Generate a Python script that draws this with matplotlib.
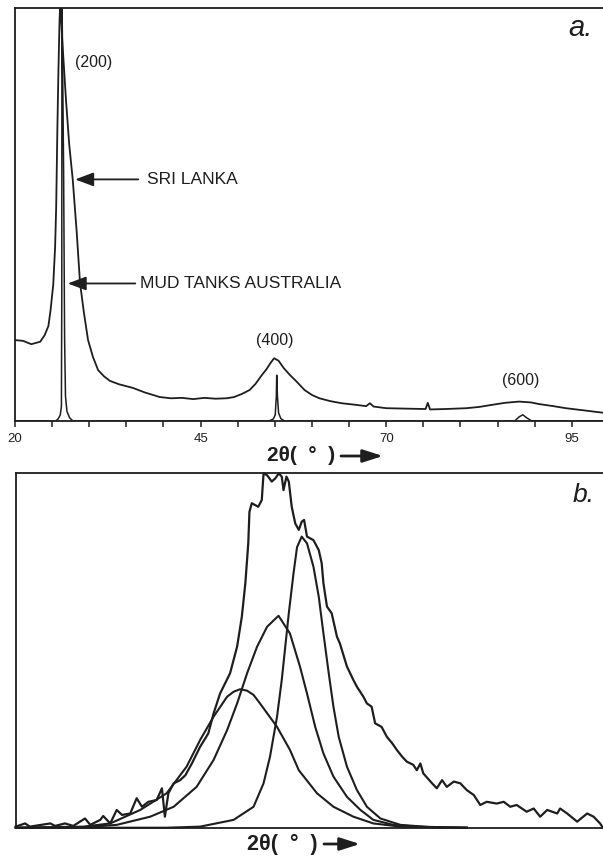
import matplotlib
matplotlib.use("Agg")
import matplotlib.pyplot as plt

plt.rcParams['font.family'] = ['Liberation Sans', 'DejaVu Sans']
INK = '#1e1e1e'

# (a) diffraction traces, 2-theta in degrees, intensity in % of full scale
sri_2theta = [20.0, 21.1, 22.2, 23.4, 24.0, 24.5, 24.8, 25.15, 25.4, 25.55,
              25.7, 25.85, 26.0, 26.06, 26.2, 26.37, 26.87, 27.3, 27.78, 28.3,
              28.76, 29.3, 29.84, 30.5, 31.2, 32.0, 32.8, 34.0, 35.9, 37.5,
              39.5, 41.0, 42.5, 44.0, 45.5, 47.0, 48.5, 49.5, 50.5, 51.6,
              52.4, 53.2, 53.9, 54.4, 54.9, 55.5, 56.2, 57.0, 57.9, 59.0,
              60.0, 61.0, 62.5, 64.0, 65.5, 67.3, 67.8, 68.3, 70.0, 72.5,
              75.3, 75.6, 75.9, 78.0, 80.8, 82.5, 84.2, 86.0, 87.9, 89.5,
              90.6, 92.5, 94.2, 96.5, 99.2]
sri_int = [19.6, 19.4, 18.6, 19.2, 20.8, 23.0, 27.0, 33.0, 42.0, 52.0,
           70.0, 85.0, 97.0, 99.8, 98.0, 92.0, 77.7, 67.0, 58.4, 46.0,
           33.4, 26.0, 19.6, 15.5, 12.3, 10.8, 9.7, 8.9, 8.0, 6.9,
           5.8, 5.5, 5.6, 5.3, 5.6, 5.4, 5.5, 5.8, 6.5, 7.5,
           9.0, 11.0, 12.6, 14.0, 15.2, 14.6, 12.8, 11.2, 9.6, 7.5,
           6.3, 5.5, 4.8, 4.3, 4.0, 3.6, 4.3, 3.5, 3.1, 3.0,
           2.9, 4.4, 2.8, 2.9, 3.1, 3.4, 3.9, 4.4, 4.7, 4.5,
           4.1, 3.6, 3.1, 2.6, 2.0]

mud_2theta = [20.0, 25.5, 25.85, 26.1, 26.25, 26.3, 26.32, 26.55, 26.68, 26.8,
              27.0, 27.35, 27.8, 54.2, 54.8, 55.05, 55.2, 55.25, 55.35, 55.5,
              55.8, 56.3, 87.3, 87.9, 88.4, 88.9, 89.6, 99.2]
mud_int = [0, 0, 0.6, 1.5, 3.5, 30, 105, 60, 20, 6,
           2.3, 0.8, 0, 0, 0.5, 1.5, 6, 11.1, 6, 2,
           0.6, 0, 0, 1.0, 1.5, 0.8, 0, 0]

tick_pos = [20, 25, 30, 35, 40, 45, 50, 55, 60, 65, 70, 75, 80, 85, 90, 95]
tick_text = ['20', '', '', '', '', '45', '', '', '', '', '70', '', '', '', '', '95']

# reflections: (label, 2-theta, height)
reflections = [('(200)', 30.6, 86.9), ('(400)', 55.0, 19.4), ('(600)', 88.1, 9.9)]

# (b) measured profile and its three fitted components (arbitrary units)
obs_x = [0.0, 1.6, 2.4, 5.9, 6.7, 8.4, 9.8, 11.8, 12.7, 14.4,
         14.9, 16.1, 17.2, 18.1, 19.5, 20.6, 21.5, 22.6, 24.0, 24.9,
         25.4, 26.0, 26.9, 28.0, 28.9, 30.0, 31.4, 32.3, 32.8, 33.7,
         34.8, 36.5, 37.7, 38.5, 39.1, 39.6, 39.8, 40.2, 41.3, 41.9,
         42.2, 42.8, 43.6, 44.2, 44.8, 45.3, 45.6, 46.1, 46.5, 47.0,
         47.6, 48.2, 48.7, 49.1, 49.6, 50.7, 51.6, 52.1, 52.4, 53.0,
         53.8, 54.7, 55.2, 56.4, 57.5, 58.1, 59.2, 59.8, 60.6, 61.2,
         62.3, 63.2, 64.1, 64.9, 65.8, 66.6, 67.7, 68.3, 68.9, 69.4,
         70.9, 71.7, 72.6, 73.4, 74.6, 75.7, 76.8, 78.0, 79.1, 80.2,
         81.9, 83.1, 84.2, 85.3, 87.0, 88.2, 89.3, 90.5, 92.2, 92.7,
         93.9, 95.6, 97.3, 98.4, 99.5, 100.0]
obs_y = [0.3, 1.2, 0.3, 1.2, 0.5, 1.2, 0.5, 2.6, 0.8, 2.2,
         3.3, 1.2, 5.0, 3.6, 4.0, 8.3, 5.9, 7.3, 7.8, 11.1,
         3.1, 9.7, 12.5, 13.4, 14.8, 18.1, 22.8, 25.2, 26.6, 32.2,
         37.8, 43.5, 51.0, 59.4, 68.8, 80.1, 89.0, 91.4, 90.4, 92.3,
         99.8, 99.3, 97.5, 98.4, 99.8, 98.9, 95.1, 98.9, 97.5, 90.4,
         85.7, 83.9, 86.2, 86.7, 82.0, 81.0, 78.2, 74.5, 68.8, 62.3,
         60.4, 53.8, 51.9, 45.4, 41.6, 39.7, 36.9, 35.0, 34.1, 29.4,
         28.4, 25.6, 23.8, 21.9, 20.0, 18.6, 17.7, 16.2, 18.1, 15.3,
         12.5, 11.1, 13.4, 11.5, 13.0, 12.5, 10.6, 9.2, 6.4, 7.3,
         6.8, 7.3, 5.9, 6.4, 4.5, 5.4, 3.1, 5.0, 4.0, 5.4,
         4.0, 1.7, 4.0, 3.1, 1.2, 0.0]

fit1_x = [0.0, 11.5, 16.1, 21.2, 25.7, 29.1, 31.4, 33.7, 36.0, 37.1,
          38.2, 39.4, 40.5, 41.6, 44.5, 46.7, 48.2, 51.3, 54.1, 57.5,
          60.9, 65.5, 71.1, 76.8]
fit1_y = [0.0, 0.3, 1.2, 5.0, 9.7, 17.2, 24.7, 31.3, 36.9, 38.3,
          39.0, 38.6, 37.4, 35.0, 28.4, 21.9, 16.2, 9.7, 5.9, 3.1,
          1.2, 0.3, 0.1, 0.0]

fit2_x = [0.0, 11.5, 17.2, 22.9, 26.9, 30.8, 33.7, 36.0, 37.7, 39.4,
          41.1, 42.8, 44.75, 46.7, 48.4, 49.6, 51.0, 52.4, 54.1, 56.4,
          58.7, 60.9, 64.3, 68.3, 74.0, 76.8]
fit2_y = [0.0, 0.1, 0.8, 3.1, 5.9, 11.5, 19.1, 27.5, 35.0, 43.5,
          51.0, 56.6, 59.7, 54.7, 45.4, 37.8, 28.4, 20.9, 14.4, 8.7,
          5.0, 2.2, 0.8, 0.3, 0.1, 0.0]

fit3_x = [0.0, 25.7, 31.4, 37.1, 40.5, 42.2, 43.3, 44.5, 45.3, 45.9,
          46.5, 47.3, 47.9, 48.7, 49.6, 50.7, 51.6, 52.4, 53.3, 54.1,
          55.0, 56.4, 58.1, 59.8, 62.1, 65.5, 71.1, 76.8]
fit3_y = [0.0, 0.0, 0.3, 2.2, 5.9, 12.5, 20.0, 31.3, 41.6, 51.0,
          60.4, 71.6, 79.0, 82.0, 80.1, 73.5, 65.1, 54.7, 43.5, 34.1,
          25.6, 17.2, 10.6, 5.9, 2.6, 0.8, 0.1, 0.0]

W, H = 603, 860
fig = plt.figure(figsize=(W / 100, H / 100), dpi=100)


def frame(ax):
    ax.spines['right'].set_visible(False)
    for s in ('left', 'top', 'bottom'):
        ax.spines[s].set_linewidth(1.3)
        ax.spines[s].set_color(INK)
    ax.set_yticks([])


def axis_label(x0, y0, size, arrow_from, arrow_to):
    fig.text(x0 / W, 1 - y0 / H, '2θ(  °  )', fontsize=size, fontweight='bold',
             color=INK, ha='left', va='center')
    fig.add_artist(matplotlib.patches.FancyArrowPatch(
        (arrow_from / W, 1 - y0 / H), (arrow_to / W, 1 - y0 / H),
        transform=fig.transFigure, arrowstyle='-|>,head_length=1.1,head_width=0.35',
        mutation_scale=11, lw=2.0, color=INK, shrinkA=0, shrinkB=0))


# ---- panel a ----
ax = fig.add_axes([15 / W, 1 - 421 / H, 1 - 15 / W, 413 / H])
frame(ax)
ax.plot(sri_2theta, sri_int, color=INK, lw=1.3)
ax.plot(mud_2theta, mud_int, color=INK, lw=1.1)
ax.set_xlim(20, 99.2)
ax.set_ylim(0, 100)
ax.set_xticks(tick_pos)
ax.set_xticklabels(tick_text)
ax.tick_params(axis='x', direction='out', length=4, width=1.1, color=INK,
               labelsize=9.5, pad=5, labelcolor=INK)

for label, tx, ty in reflections:
    ax.text(tx, ty, label, fontsize=11.5, ha='center', va='center', color=INK)

arrow_kw = dict(arrowstyle='-|>,head_length=0.8,head_width=0.3',
                mutation_scale=14, lw=1.3, color=INK, shrinkA=0, shrinkB=0)
ax.annotate('', xy=(28.1, 58.5), xytext=(36.6, 58.5), arrowprops=arrow_kw)
ax.text(37.8, 58.5, 'SRI LANKA', fontsize=12.5, va='center', ha='left', color=INK)
ax.annotate('', xy=(27.1, 33.3), xytext=(36.2, 33.3), arrowprops=arrow_kw)
ax.text(36.85, 33.3, 'MUD TANKS AUSTRALIA', fontsize=12.5, va='center', ha='left', color=INK)

fig.text(581 / W, 1 - 28 / H, 'a.', fontsize=21, style='italic',
         ha='center', va='center', color=INK)
axis_label(267, 456, 15, 341, 383)

# ---- panel b ----
bx = fig.add_axes([15.7 / W, 1 - 827.7 / H, 1 - 15.7 / W, 355 / H])
frame(bx)
bx.set_xticks([])
bx.set_xlim(0, 100)
bx.set_ylim(0, 100)
for fx, fy in ((fit1_x, fit1_y), (fit2_x, fit2_y), (fit3_x, fit3_y)):
    bx.plot(fx, fy, color=INK, lw=1.5, clip_on=False)
bx.plot(obs_x, obs_y, color=INK, lw=1.6, clip_on=False)

fig.text(584 / W, 1 - 495 / H, 'b.', fontsize=19, style='italic',
         ha='center', va='center', color=INK)
axis_label(247, 844, 15.5, 324, 360)

fig.savefig('out.png', dpi=100, facecolor='white')
